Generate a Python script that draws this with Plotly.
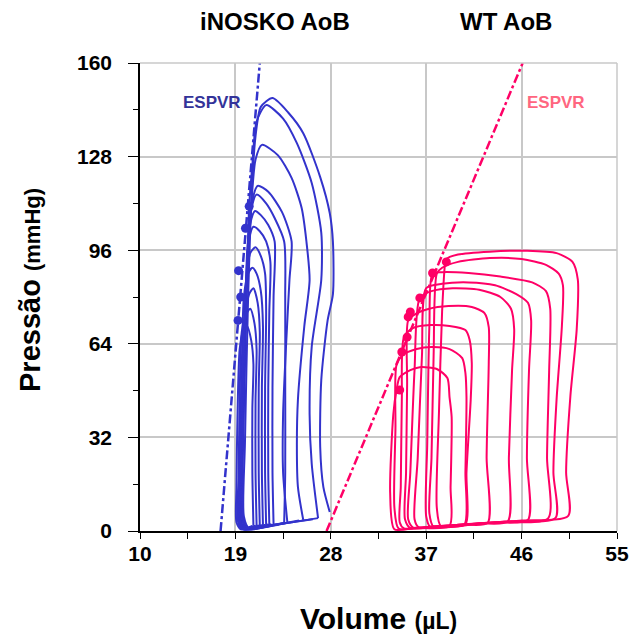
import plotly.graph_objects as go

ko_loop_v = [
    [27.9, 27.3, 27.0, 27.1, 27.7, 28.2, 28.2, 27.9, 27.0, 25.4, 24.0, 22.5, 21.4, 20.9, 20.6, 20.2, 19.9, 19.8, 20.3, 23.5, 26.8],
    [26.8, 26.2, 26.0, 26.2, 27.1, 27.1, 26.2, 24.8, 23.5, 21.9, 21.0, 20.6, 20.3, 20.0, 19.7, 19.7, 20.2, 23.0, 26.3],
    [25.4, 24.9, 24.8, 24.9, 25.5, 26.0, 25.7, 25.25, 24.3, 23.0, 21.5, 20.9, 20.5, 20.1, 19.8, 19.6, 20.1, 22.5, 25.0],
    [23.9, 23.5, 23.5, 23.8, 24.1, 24.3, 23.4, 22.1, 21.1, 20.6, 20.3, 20.0, 19.7, 19.6, 20.0, 22.0, 23.6],
    [23.6, 23.7, 23.7, 23.7, 23.6, 22.7, 21.9, 21.0, 20.5, 20.2, 19.9, 19.6, 19.5, 19.9, 21.8, 23.4],
    [22.6, 22.5, 22.5, 22.6, 22.7, 22.1, 21.4, 20.85, 20.4, 20.1, 19.8, 19.5, 19.5, 19.9, 21.3, 22.4],
    [22.2, 22.1, 22.1, 22.2, 22.3, 21.9, 21.3, 20.7, 20.3, 20.0, 19.7, 19.4, 19.4, 19.8, 21.0, 22.1],
    [21.9, 21.8, 21.8, 21.9, 21.8, 21.4, 20.9, 20.4, 20.1, 19.8, 19.5, 19.4, 19.8, 20.8, 21.8],
    [21.6, 21.5, 21.5, 21.6, 21.4, 21.0, 20.6, 20.2, 19.8, 19.6, 19.4, 19.4, 19.8, 20.6, 21.5],
    [21.3, 21.2, 21.2, 21.3, 21.1, 20.7, 20.3, 19.9, 19.6, 19.4, 19.3, 19.7, 20.5, 21.2],
    [21.0, 20.9, 20.9, 21.0, 20.8, 20.4, 20.0, 19.6, 19.4, 19.3, 19.2, 19.6, 20.4, 20.9],
    [20.7, 20.6, 20.6, 20.7, 20.5, 20.1, 19.7, 19.4, 19.2, 19.1, 19.1, 19.5, 20.2, 20.6],
]
ko_loop_p = [
    [6.5, 15, 28.7, 51.6, 72, 81, 98.8, 108.7, 121, 136, 143, 148, 145, 135, 120, 80, 30, 5, 0.9, 2.5, 4.4],
    [4.4, 23, 40, 63, 85.8, 102, 119, 132.6, 141, 145.6, 140, 125, 111, 70, 25, 4, 0.8, 2.3, 4.0],
    [3.8, 15, 28.7, 45, 70, 85.8, 99, 110.4, 120.7, 128.5, 132, 127, 112, 95, 50, 8, 0.7, 1.9, 3.6],
    [3.0, 20, 40, 65, 85.8, 99, 109, 116, 118, 113, 100, 80, 30, 5, 0.7, 1.7, 2.8],
    [2.7, 20, 49, 80, 99, 107, 112, 115, 110, 95, 70, 25, 4, 0.6, 1.5, 2.6],
    [2.4, 20, 49, 80, 99, 104.6, 108, 109.4, 105, 90, 60, 20, 4, 0.6, 1.4, 2.3],
    [2.3, 20, 49, 75, 92, 99, 102.5, 104, 100, 85, 60, 20, 4, 0.6, 1.3, 2.2],
    [2.2, 20, 49, 75, 88, 94, 97, 95, 88, 60, 20, 4, 0.6, 1.3, 2.1],
    [2.1, 20, 49, 70, 82, 88, 90, 88, 80, 55, 20, 4, 0.6, 1.2, 2.0],
    [2.0, 20, 49, 68, 78, 83, 81, 72, 50, 20, 4, 0.6, 1.2, 1.9],
    [1.9, 20, 45, 62, 71, 76, 74, 68, 45, 18, 4, 0.6, 1.2, 1.8],
    [1.8, 20, 42, 57, 65, 70, 68, 62, 40, 15, 3, 0.6, 1.1, 1.7],
]
ko_es_v = [20.3, 19.95, 19.3, 19.5, 19.25]
ko_es_p = [111, 103.5, 89, 80, 72]

wt_loop_v = [
    [50.4, 50.2, 50.6, 51.2, 51.3, 50.8, 49.3, 46.5, 43.0, 40.0, 38.9, 38.8, 38.5, 38.2, 38.0, 38.4, 42.0, 46.0, 50.4],
    [49.2, 49.0, 49.3, 49.8, 49.9, 49.5, 48.3, 46.0, 43.0, 40.0, 38.5, 38.0, 37.7, 37.5, 37.3, 37.7, 41.0, 45.0, 49.2],
    [48.5, 48.4, 48.6, 48.7, 48.3, 47.0, 44.0, 41.0, 38.5, 37.6, 37.3, 37.1, 37.0, 37.4, 40.0, 44.0, 48.5],
    [46.6, 46.5, 46.7, 46.9, 46.6, 45.5, 43.5, 41.0, 38.5, 37.0, 36.6, 36.2, 35.9, 36.3, 40.0, 43.5, 46.6],
    [44.7, 44.8, 45.1, 45.3, 45.0, 44.0, 42.0, 39.5, 37.5, 36.4, 35.9, 35.5, 35.3, 35.8, 39.0, 42.0, 44.7],
    [42.8, 42.7, 42.9, 42.9, 42.5, 41.3, 39.1, 37.2, 35.9, 35.3, 35.2, 35.1, 35.0, 35.5, 38.0, 40.5, 42.8],
    [40.7, 40.8, 41.2, 41.3, 41.1, 40.7, 39.2, 37.4, 35.75, 34.9, 34.7, 34.6, 34.5, 34.9, 37.0, 39.0, 40.7],
    [40.6, 40.7, 40.8, 40.7, 40.4, 39.2, 37.5, 36.1, 34.8, 34.2, 34.1, 34.0, 34.4, 36.5, 38.5, 40.6],
    [39.2, 39.3, 39.4, 39.2, 39.0, 38.0, 36.4, 35.5, 34.5, 34.2, 33.9, 33.6, 34.0, 36.0, 39.2],
]
wt_loop_p = [
    [5.2, 20, 46, 69, 86, 92, 95, 95.8, 95.5, 94.5, 93, 92, 75, 40, 8, 1.6, 2.6, 3.6, 5.2],
    [4.5, 20, 45, 70, 84, 88, 91, 93, 93.3, 92, 90, 88, 60, 25, 6, 1.4, 2.3, 3.3, 4.5],
    [4.3, 25, 55, 76, 82, 85, 87, 88.2, 88.5, 88, 70, 30, 5, 1.3, 2.1, 3.1, 4.3],
    [3.8, 25, 55, 72, 78, 81, 84, 85, 84.5, 83, 60, 25, 4, 1.2, 2.0, 2.9, 3.8],
    [3.3, 25, 55, 69, 76, 80, 82.5, 83, 82, 79.7, 55, 20, 4, 1.1, 1.8, 2.6, 3.3],
    [2.8, 25, 57, 69.7, 74.5, 76.6, 76.9, 75.9, 74, 72, 50, 20, 4, 1.0, 1.6, 2.2, 2.8],
    [2.3, 20, 45, 57.4, 65.3, 68.7, 70.1, 70.4, 69.4, 66.3, 45, 15, 3, 0.9, 1.4, 1.9, 2.3],
    [2.2, 20, 45.8, 54, 59.1, 62.2, 62.9, 62.2, 60.2, 56.8, 35, 8, 0.8, 1.2, 1.7, 2.2],
    [1.8, 15, 39, 45.8, 52.3, 55.4, 56, 55, 52.6, 48.2, 40, 13, 0.6, 1.1, 1.8],
]
wt_es_v = [38.9, 37.6, 36.4, 35.5, 35.3, 35.2, 34.7, 34.5]
wt_es_p = [92, 88.2, 79.7, 74.9, 73.2, 66.3, 61.2, 48.2]

ko_espvr_v = [17.6, 21.3]
ko_espvr_p = [0, 160]
wt_espvr_v = [27.6, 46.1]
wt_espvr_p = [0, 160]

x_ticks = [10, 19, 28, 37, 46, 55]
x_minor = [14.5, 23.5, 32.5, 41.5, 50.5]
y_ticks = [0, 32, 64, 96, 128, 160]
y_minor = [16, 48, 80, 112, 144]

BLUE = "#3333cc"
PINK = "#ff0066"
FONT = "Arial, Liberation Sans, sans-serif"

fig = go.Figure()

for v, p in zip(ko_loop_v, ko_loop_p):
    fig.add_trace(go.Scatter(x=v, y=p, mode="lines", line=dict(color=BLUE, width=2, shape="spline", smoothing=0.7)))
for v, p in zip(wt_loop_v, wt_loop_p):
    fig.add_trace(go.Scatter(x=v, y=p, mode="lines", line=dict(color=PINK, width=2, shape="spline", smoothing=0.7)))

fig.add_trace(go.Scatter(x=ko_espvr_v, y=ko_espvr_p, mode="lines", line=dict(color=BLUE, width=2.5, dash="dashdot")))
fig.add_trace(go.Scatter(x=wt_espvr_v, y=wt_espvr_p, mode="lines", line=dict(color=PINK, width=2.5, dash="dashdot")))
fig.add_trace(go.Scatter(x=ko_es_v, y=ko_es_p, mode="markers", marker=dict(color=BLUE, size=9)))
fig.add_trace(go.Scatter(x=wt_es_v, y=wt_es_p, mode="markers", marker=dict(color=PINK, size=9)))

tickfont = dict(family=FONT, size=21, color="black", weight="bold")
tick_style = dict(tickcolor="black", tickwidth=1.2)

fig.update_layout(
    width=629, height=639,
    margin=dict(l=140, r=12, t=63, b=108),
    paper_bgcolor="white", plot_bgcolor="white",
    showlegend=False,
    font=dict(family=FONT, color="black"),
    xaxis=dict(range=[10, 55], tickvals=x_ticks, showgrid=True, gridcolor="#c8c8c8", gridwidth=1.5,
               showline=True, linecolor="black", linewidth=1.5, ticks="outside", ticklen=6,
               tickfont=tickfont, zeroline=False, ticklabelstandoff=-3, automargin=False, **tick_style,
               minor=dict(tickvals=x_minor, ticks="outside", ticklen=6, showgrid=False, **tick_style)),
    yaxis=dict(range=[0, 160], tickvals=y_ticks, showgrid=True, gridcolor="#c8c8c8", gridwidth=1.5,
               showline=True, linecolor="black", linewidth=1.5, ticks="outside", ticklen=10,
               tickfont=tickfont, zeroline=False, ticklabelstandoff=12, automargin=False, **tick_style,
               minor=dict(tickvals=y_minor, ticks="outside", ticklen=5, showgrid=False, **tick_style)),
    xaxis2=dict(range=[10, 55], overlaying="x", anchor="y", side="bottom", tickvals=x_ticks,
                ticks="inside", ticklen=5, showticklabels=False, showgrid=False, zeroline=False,
                showline=False, automargin=False, **tick_style,
                minor=dict(tickvals=x_minor, ticks="inside", ticklen=5, **tick_style)),
    yaxis2=dict(range=[0, 160], overlaying="y", anchor="x", side="left", tickvals=y_ticks,
                ticks="inside", ticklen=10, showticklabels=False, showgrid=False, zeroline=False,
                showline=False, automargin=False, **tick_style,
                minor=dict(tickvals=y_minor, ticks="inside", ticklen=5, **tick_style)),
)

# grey frame on top and right, like the outer grid lines
fig.add_shape(type="line", xref="paper", yref="paper", x0=0, x1=1, y0=1, y1=1, line=dict(color="#c8c8c8", width=1.5))
fig.add_shape(type="line", xref="paper", yref="paper", x0=1, x1=1, y0=0, y1=1, line=dict(color="#c8c8c8", width=1.5))

fig.add_annotation(x=22.7, y=1.0897, xref="x", yref="paper", yanchor="middle", text="<b>iNOSKO AoB</b>",
                   showarrow=False, font=dict(family=FONT, size=24, color="black"))
fig.add_annotation(x=44.5, y=1.0897, xref="x", yref="paper", yanchor="middle", text="<b>WT AoB</b>",
                   showarrow=False, font=dict(family=FONT, size=24, color="black"))
fig.add_annotation(x=16.8, y=146.5, text="<b>ESPVR</b>", showarrow=False,
                   font=dict(family=FONT, size=17, color="#333399"))
fig.add_annotation(x=49.2, y=146.5, text="<b>ESPVR</b>", showarrow=False,
                   font=dict(family=FONT, size=17, color="#ff6680"))
fig.add_annotation(x=-0.2306, y=0.515, xref="paper", yref="paper", xanchor="center", yanchor="middle",
                   textangle=-90, showarrow=False,
                   text="<b>Pressão</b> <b><span style='font-size:22px'>(mmHg)</span></b>",
                   font=dict(family=FONT, size=29, color="black"))
fig.add_annotation(x=0.5, y=-0.186, xref="paper", yref="paper", xanchor="center", yanchor="middle",
                   showarrow=False,
                   text="<b>Volume</b> <b><span style='font-size:23px'>(µL)</span></b>",
                   font=dict(family=FONT, size=30, color="black"))

# drop the default page margin so the figure fills the window exactly
fig.write_html("out.html", config={"displayModeBar": False},
               post_script="document.body.style.margin='0';document.body.style.overflow='hidden';")
